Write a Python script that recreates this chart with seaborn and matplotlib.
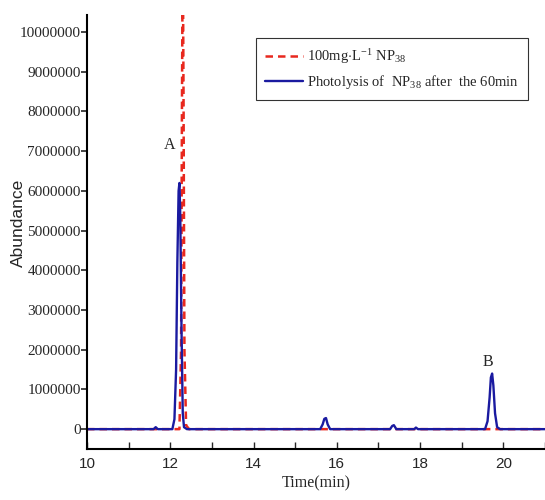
import matplotlib
matplotlib.use("Agg")
import matplotlib.pyplot as plt
import seaborn as sns
import pandas as pd

# chromatogram points (time in min, abundance)
time_blue = [10.0, 11.60, 11.65, 11.70, 12.05, 12.10, 12.14, 12.17, 12.20, 12.22,
             12.24, 12.27, 12.30, 12.33, 12.40, 15.60, 15.66, 15.70, 15.74, 15.78,
             15.84, 17.28, 17.33, 17.37, 17.43, 17.86, 17.90, 17.95, 19.56, 19.62,
             19.67, 19.70, 19.73, 19.76, 19.80, 19.85, 19.92, 21.0]
abund_blue = [0, 0, 50000, 0, 0, 250000, 1500000, 4200000, 6000000, 6200000,
              5400000, 2500000, 400000, 50000, 0, 0, 120000, 260000, 280000, 120000,
              0, 0, 80000, 100000, 0, 0, 40000, 0, 0, 200000,
              800000, 1300000, 1400000, 1100000, 400000, 50000, 0, 0]

time_red = [10.0, 12.22, 12.26, 12.28, 12.30, 12.32, 12.34, 12.38, 12.45, 21.0]
abund_red = [0, 0, 2000000, 8000000, 12500000, 8000000, 2000000, 100000, 0, 0]

series_names = [r"100mg$\cdot$L$^{-1}$ NP$_{38}$",
                r"Photolysis of  NP$_{38}$ after  the 60min"]
y_ticks = [0, 1000000, 2000000, 3000000, 4000000, 5000000,
           6000000, 7000000, 8000000, 9000000, 10000000]
x_ticks = [10, 12, 14, 16, 18, 20]
peak_labels = ["A", "B"]
peak_x = [11.98, 19.62]
peak_y = [7150000, 1700000]

df_red = pd.DataFrame({"Time": time_red, "Abundance": abund_red})
df_blue = pd.DataFrame({"Time": time_blue, "Abundance": abund_blue})

sns.set_style("white")
plt.rcParams["font.family"] = ["Liberation Serif", "DejaVu Serif"]
plt.rcParams["mathtext.fontset"] = "custom"
plt.rcParams["mathtext.rm"] = "Liberation Serif"
plt.rcParams["mathtext.it"] = "Liberation Serif:italic"

fig = plt.figure(figsize=(5.45, 5.0), dpi=100)
ax = fig.add_axes([87 / 545, 51 / 500, 458 / 545, 434 / 500])

sns.lineplot(data=df_red, x="Time", y="Abundance", color="#e8281e",
             linestyle=(0, (3, 2)), linewidth=1.8, label=series_names[0],
             ax=ax, sort=False)
sns.lineplot(data=df_blue, x="Time", y="Abundance", color="#1a1aa0",
             linewidth=1.7, label=series_names[1], ax=ax, sort=False)

for lab, px, py in zip(peak_labels, peak_x, peak_y):
    ax.text(px, py, lab, ha="center", va="center", fontsize=11.5)

ax.set_xlim(10, 21)
ax.set_ylim(-500000, 10430000)
ax.set_xticks(x_ticks)
ax.set_xticks(range(10, 22), minor=True)
ax.set_yticks(y_ticks)
ax.set_yticklabels([str(v) for v in y_ticks])
ax.set_xticklabels([str(v) for v in x_ticks], family="Liberation Sans")

ax.tick_params(axis="x", which="both", direction="in", length=5, width=1,
               labelsize=11, pad=6, bottom=True)
ax.tick_params(axis="y", direction="out", length=4, width=1.2,
               labelsize=11, pad=0.5, left=True)

ax.set_xlabel("Time(min)", fontsize=11.5, labelpad=3)
ax.set_ylabel("Abundance", fontsize=12.5, family="Liberation Sans")
ax.yaxis.set_label_coords(-0.134, 0.52)

for s in ["top", "right"]:
    ax.spines[s].set_visible(False)
for s in ["left", "bottom"]:
    ax.spines[s].set_color("black")
    ax.spines[s].set_linewidth(1.5)

leg = ax.legend(loc="upper left", bbox_to_anchor=(0.369, 0.947), fontsize=10.5,
                frameon=True, fancybox=False, handlelength=2.6, handletextpad=0.3,
                borderpad=0.6, labelspacing=0.5, borderaxespad=0)
leg.get_frame().set_edgecolor("black")
leg.get_frame().set_linewidth(0.8)

fig.savefig("out.png", dpi=100, facecolor="white")
